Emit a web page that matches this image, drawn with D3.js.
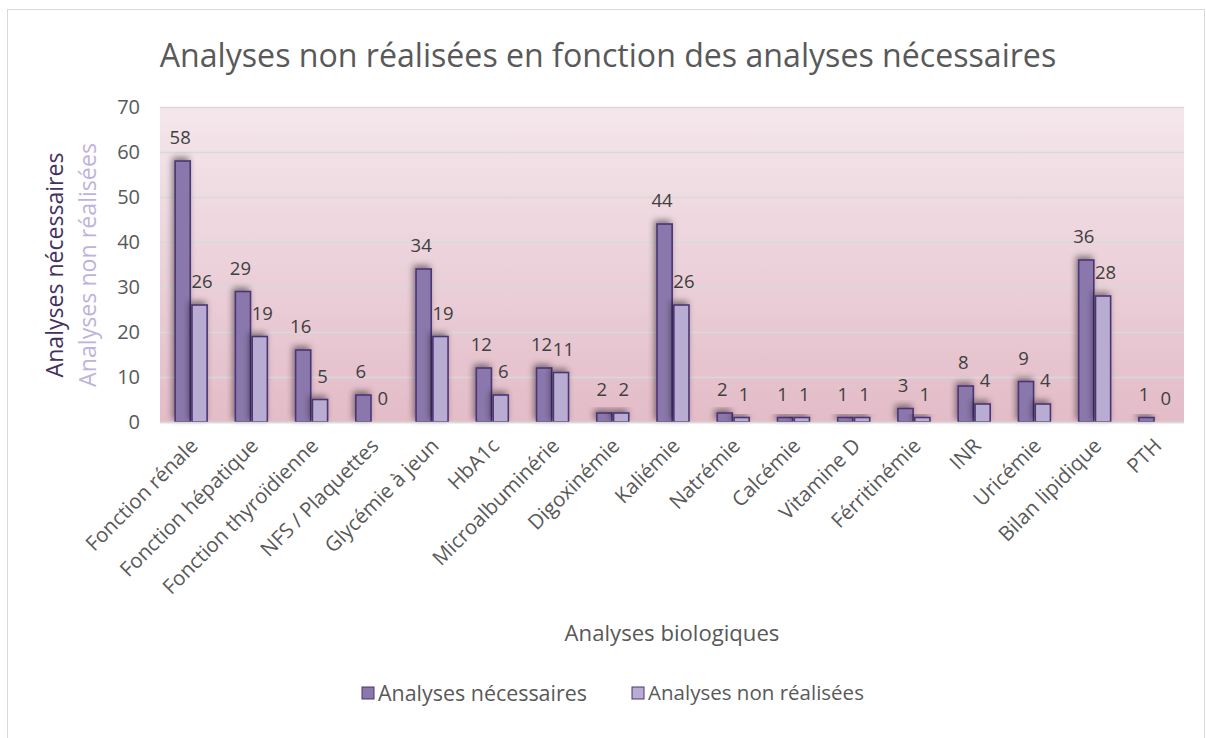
<!DOCTYPE html>
<html>
<head>
<meta charset="utf-8">
<script src="https://cdn.jsdelivr.net/npm/d3@7"></script>
<style>
  body { margin: 0; background: #fff; }
  text { font-family: "Open Sans", "Noto Sans", sans-serif; }
</style>
</head>
<body>
<div id="chart"></div>
<script>
// Data
const categories = ["Fonction rénale", "Fonction hépatique", "Fonction thyroïdienne", "NFS / Plaquettes",
  "Glycémie à jeun", "HbA1c", "Microalbuminérie", "Digoxinémie", "Kaliémie", "Natrémie", "Calcémie",
  "Vitamine D", "Férritinémie", "INR", "Uricémie", "Bilan lipidique", "PTH"];
const necessaires = [58, 29, 16, 6, 34, 12, 12, 2, 44, 2, 1, 1, 3, 8, 9, 36, 1];
const nonRealisees = [26, 19, 5, 0, 19, 6, 11, 2, 26, 1, 1, 1, 1, 4, 4, 28, 0];
const seriesNames = ["Analyses nécessaires", "Analyses non réalisées"];
const yTicks = [0, 10, 20, 30, 40, 50, 60, 70];

const width = 1206, height = 738;
const plot = { left: 160, right: 1184, top: 107, bottom: 422 };
const fills = ["#8a77ab", "#b8acd2"];
const strokeCol = "#4c3474";
const textCol = "#595959";

const svg = d3.select("#chart").append("svg")
  .attr("width", width).attr("height", height);

// fit a text element to a given width by adjusting font size
function fitText(sel, target) {
  const fs = parseFloat(sel.style("font-size"));
  const w = sel.node().getComputedTextLength();
  sel.style("font-size", (fs * target / w) + "px");
}

const defs = svg.append("defs");
const grad = defs.append("linearGradient").attr("id", "bg")
  .attr("x1", 0).attr("y1", 0).attr("x2", 0).attr("y2", 1);
grad.append("stop").attr("offset", "0%").attr("stop-color", "#f4e7ec");
grad.append("stop").attr("offset", "100%").attr("stop-color", "#e3bcc8");

const shadow = defs.append("filter").attr("id", "shadow")
  .attr("x", "-60%").attr("y", "-60%").attr("width", "220%").attr("height", "220%");
shadow.append("feDropShadow").attr("dx", -2).attr("dy", -3)
  .attr("stdDeviation", 3).attr("flood-color", "#000").attr("flood-opacity", 0.45);

// chart border
svg.append("rect").attr("x", 7.5).attr("y", 9.5).attr("width", 1197).attr("height", 740)
  .attr("fill", "#fff").attr("stroke", "#d9d9d9");

// title
const title = svg.append("text").attr("x", 608).attr("y", 67)
  .attr("text-anchor", "middle").attr("fill", textCol).style("font-size", "28px")
  .text("Analyses non réalisées en fonction des analyses nécessaires");
fitText(title, 897);

// scales
const y = d3.scaleLinear().domain([0, 70]).range([plot.bottom, plot.top]);
const x0 = d3.scaleBand().domain(categories).range([plot.left, plot.right]);
const bw = x0.bandwidth();
const x1 = d3.scaleBand().domain(seriesNames).range([bw / 2 - 15, bw / 2 + 17]).paddingInner(0.1);

// plot background
svg.append("rect").attr("x", plot.left).attr("y", plot.top)
  .attr("width", plot.right - plot.left).attr("height", plot.bottom - plot.top)
  .attr("fill", "url(#bg)");

// gridlines
svg.append("g").selectAll("line").data(yTicks).join("line")
  .attr("x1", plot.left).attr("x2", plot.right)
  .attr("y1", d => Math.round(y(d)) + 0.5).attr("y2", d => Math.round(y(d)) + 0.5)
  .attr("stroke", "#d9d9d9").attr("stroke-width", 1.5);

// y axis
const yAxis = svg.append("g").attr("transform", `translate(${plot.left},0)`)
  .call(d3.axisLeft(y).tickValues(yTicks).tickSize(0).tickPadding(20));
yAxis.select(".domain").remove();
yAxis.selectAll("text").attr("fill", textCol).style("font-size", "20px")
  .style("font-family", '"Open Sans", sans-serif');

// bars
const data = categories.map((c, i) => ({ cat: c, vals: [necessaires[i], nonRealisees[i]] }));
const groups = svg.append("g").selectAll("g").data(data).join("g")
  .attr("transform", d => `translate(${x0(d.cat)},0)`);

groups.selectAll("rect").data(d => d.vals.map((v, j) => ({ v, j })).filter(e => e.v > 0)).join("rect")
  .attr("x", e => x1(seriesNames[e.j]))
  .attr("y", e => y(e.v))
  .attr("width", x1.bandwidth())
  .attr("height", e => y(0) - y(e.v))
  .attr("fill", e => fills[e.j])
  .attr("stroke", strokeCol).attr("stroke-width", 1.6)
  .attr("filter", "url(#shadow)");

// data labels
groups.selectAll("text").data(d => d.vals.map((v, j) => ({ v, j }))).join("text")
  .attr("x", e => x1(seriesNames[e.j]) + x1.bandwidth() / 2 + (e.j === 0 ? -2.5 : 2.5))
  .attr("y", e => y(e.v) - 17)
  .attr("text-anchor", "middle")
  .attr("fill", "#404040").style("font-size", "18.5px")
  .text(e => e.v);

// x axis line
svg.append("line").attr("x1", plot.left).attr("x2", plot.right)
  .attr("y1", plot.bottom + 0.5).attr("y2", plot.bottom + 0.5)
  .attr("stroke", "#d9d9d9").attr("stroke-width", 1.5);

// category labels
svg.append("g").selectAll("text").data(categories).join("text")
  .attr("transform", d => `translate(${x0(d) + bw / 2 + 4},${plot.bottom + 20}) rotate(-45)`)
  .attr("text-anchor", "end").attr("dy", "0.35em")
  .attr("fill", textCol).style("font-size", "20.5px")
  .text(d => d);

// axis titles
const xt = svg.append("text").attr("x", (plot.left + plot.right) / 2).attr("y", 641)
  .attr("text-anchor", "middle").attr("fill", textCol).style("font-size", "20px")
  .text("Analyses biologiques");
fitText(xt, 215);

const yt1 = svg.append("text").attr("transform", "translate(63,265) rotate(-90)")
  .attr("text-anchor", "middle").attr("fill", "#45305f").style("font-size", "21px")
  .text(seriesNames[0]);
fitText(yt1, 225);
const yt2 = svg.append("text").attr("transform", "translate(96,265) rotate(-90)")
  .attr("text-anchor", "middle").attr("fill", "#bfb2dc").style("font-size", "21px")
  .text(seriesNames[1]);
fitText(yt2, 244);

// legend
const legendX = [362, 632];
const legend = svg.append("g").selectAll("g").data(seriesNames).join("g")
  .attr("transform", (d, i) => `translate(${legendX[i]},687)`);
legend.append("rect").attr("width", 12).attr("height", 12)
  .attr("fill", (d, i) => fills[i]).attr("stroke", strokeCol).attr("stroke-width", 1);
legend.append("text").attr("x", 16).attr("y", 6).attr("dy", "0.35em")
  .attr("fill", textCol).style("font-size", "18px")
  .text(d => d)
  .each(function (d, i) { fitText(d3.select(this), i === 0 ? 209 : 216); });
</script>
</body>
</html>
